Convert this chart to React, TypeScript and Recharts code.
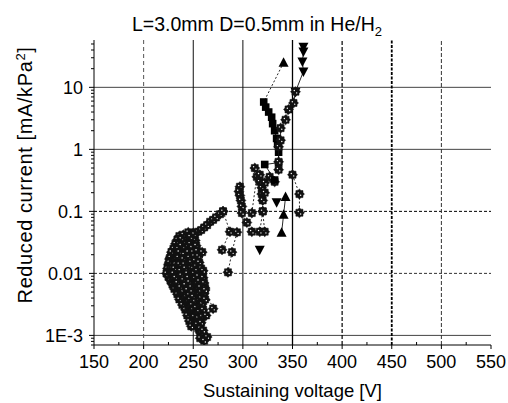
import React from 'react';
import { ScatterChart, Scatter, XAxis, YAxis, ReferenceLine } from 'recharts';

type P = [number, number];
const toPts = (a: P[]) => a.map(([v, c]) => ({ v, c }));

const FONT = '"Liberation Sans", Arial, Helvetica, sans-serif';

// ---- axis ticks ----
const xTicks = [150, 175, 200, 225, 250, 275, 300, 325, 350, 375, 400, 425, 450, 475, 500, 525, 550];
const xMajor = [150, 200, 250, 300, 350, 400, 450, 500, 550];
const xMajorLabels = ['150', '200', '250', '300', '350', '400', '450', '500', '550'];
const yMajor = [0.001, 0.01, 0.1, 1, 10];
const yMajorLabels = ['1E-3', '0.01', '0.1', '1', '10'];
const yMinor = [
  0.0007, 0.0008, 0.0009,
  0.002, 0.003, 0.004, 0.005, 0.006, 0.007, 0.008, 0.009,
  0.02, 0.03, 0.04, 0.05, 0.06, 0.07, 0.08, 0.09,
  0.2, 0.3, 0.4, 0.5, 0.6, 0.7, 0.8, 0.9,
  2, 3, 4, 5, 6, 7, 8, 9,
  20, 30, 40, 50,
];
const yTicks = [...yMajor, ...yMinor].sort((a, b) => a - b);

// ---- data (voltage V, reduced current mA/kPa^2) ----
const clusterA: P[] = [[245,0.046],[247,0.04],[248,0.035],[247,0.03],[249,0.026],[250,0.022],[251,0.019],[252,0.016],[253,0.013],[254,0.011],[255,0.009],[256,0.0075],[257,0.006],[258,0.005],[258,0.004],[259,0.0032],[260,0.0026],[259,0.002],[258,0.0016],[257,0.0013],[258,0.0011],[257,0.0009]];
const clusterB: P[] = [[240,0.042],[238,0.036],[236,0.03],[235,0.025],[234,0.021],[233,0.017],[232,0.014],[231,0.012],[230,0.01],[232,0.0085],[234,0.007],[237,0.006],[240,0.005],[243,0.0042],[245,0.0035],[247,0.0029],[249,0.0024],[251,0.002],[253,0.0016],[255,0.0013],[257,0.0011]];
const clusterC: P[] = [[250,0.04],[252,0.034],[253,0.028],[254,0.023],[255,0.019],[256,0.015],[258,0.012],[259,0.01],[260,0.0085],[261,0.007],[262,0.0058],[261,0.0047],[262,0.0038]];
const clusterD: P[] = [[228,0.02],[226,0.017],[225,0.014],[224,0.012],[223,0.01],[225,0.0088],[227,0.0077],[229,0.0066],[231,0.0056],[234,0.0046],[236,0.0038],[239,0.0031],[242,0.0026],[244,0.0021],[246,0.0017],[248,0.0014]];
const clusterE: P[] = [[243,0.03],[242,0.025],[241,0.02],[240,0.017],[241,0.014],[242,0.012],[244,0.01],[245,0.0085],[246,0.0072],[248,0.006],[249,0.005],[250,0.0042],[252,0.0035],[253,0.0028],[254,0.0023],[255,0.0019],[254,0.0015]];
const clusterF: P[] = [[259,0.022],[260,0.011],[262,0.0054],[270,0.0027],[263,0.0021],[260,0.0012],[264,0.00094],[261,0.00082]];
const clusterG: P[] = [[236,0.04],[234,0.035],[232,0.03],[230,0.025],[228,0.022],[227,0.018],[226,0.015],[227,0.012],[228,0.0095],[230,0.008],[232,0.0068],[235,0.0058],[238,0.0048],[241,0.004],[244,0.0033],[246,0.0027],[249,0.0022],[252,0.0018],[255,0.0015],[258,0.0012],[260,0.001]];
const clusterH: P[] = [[250,0.045],[248,0.038],[246,0.032],[245,0.027],[245,0.022],[246,0.018],[248,0.015],[250,0.012],[251,0.01],[252,0.0083],[254,0.0068],[255,0.0056],[256,0.0046],[256,0.0037],[257,0.003],[256,0.0024],[255,0.0019]];
const clusterI: P[] = [[238,0.028],[236,0.022],[235,0.018],[236,0.014],[237,0.011],[238,0.0093],[240,0.0078],[242,0.0065],[244,0.0054],[246,0.0045],[247,0.0038],[249,0.0031],[250,0.0026]];
const clusterJ: P[] = [[229,0.014],[231,0.016],[233,0.013],[234,0.011],[236,0.0098],[233,0.0085],[229,0.012]];
const chainRise: P[] = [[247,0.039],[251,0.043],[255,0.047],[258,0.05],[261,0.055],[264,0.06],[267,0.068],[270,0.073],[273,0.08],[277,0.09],[280,0.1]];
const mid1: P[] = [[280,0.1],[287,0.047],[279,0.024]];
const mid2: P[] = [[294,0.046],[289,0.022],[285,0.0104]];
const mid3: P[] = [[297,0.25],[296,0.21],[297,0.18],[298,0.15],[299,0.12],[299,0.094],[304,0.066],[309,0.047]];
const mid4: P[] = [[309,0.094],[314,0.36],[317,0.3],[319,0.24],[319,0.19],[320,0.15],[320,0.1],[322,0.047]];
const mid5: P[] = [[320,0.1],[317,0.047]];
const upper1: P[] = [[312,0.5],[317,0.39],[322,0.29],[322,0.2]];
const upper2: P[] = [[327,0.36],[332,0.3]];
const squares: P[] = [[321,5.8],[323,4.8],[326,4.0],[329,3.3],[330,2.6],[332,2.0],[334,1.5],[335,1.2],[336,0.9],[336,0.61],[322,0.57],[332,0.32]];
const triUpTopLine: P[] = [[341,25],[321,5.8]];
const triUpTop: P[] = [[341,25]];
const triDownTop: P[] = [[361,45],[361,38],[360,26],[361,18],[353,8.5]];
const rightChain: P[] = [[353,8.5],[351,5.6],[346,4.4],[343,3.0],[338,2.2],[338,1.4],[336,1.1],[336,0.63],[336,0.47]];
const triUpLow: P[] = [[343,0.17],[341,0.088],[339,0.045]];
const triDownLow: P[] = [[334,0.14],[317,0.024]];
const rightFlowers: P[] = [[350,0.39],[357,0.19],[357,0.095]];

// ---- markers ----
const Flower = (p: any) => {
  const { cx, cy } = p;
  if (cx == null || cy == null) return <g />;
  const pts: string[] = [];
  for (let i = 0; i < 16; i++) {
    const r = i % 2 === 0 ? 5 : 3.9;
    const a = (Math.PI * i) / 8;
    pts.push(`${cx + r * Math.cos(a)},${cy + r * Math.sin(a)}`);
  }
  return (
    <g>
      <polygon points={pts.join(' ')} fill="#111" stroke="#111" strokeWidth={0.5} />
      <circle cx={cx - 1.2} cy={cy - 1.2} r={0.7} fill="#fff" />
      <circle cx={cx + 1.2} cy={cy + 1.2} r={0.7} fill="#fff" />
    </g>
  );
};
const Square = (p: any) => {
  const { cx, cy } = p;
  if (cx == null) return <g />;
  return <rect x={cx - 3.8} y={cy - 3.8} width={7.6} height={7.6} fill="#000" />;
};
const TriUp = (p: any) => {
  const { cx, cy } = p;
  if (cx == null) return <g />;
  return <polygon points={`${cx},${cy - 5.5} ${cx + 5},${cy + 4} ${cx - 5},${cy + 4}`} fill="#000" />;
};
const TriDown = (p: any) => {
  const { cx, cy } = p;
  if (cx == null) return <g />;
  return <polygon points={`${cx},${cy + 5.5} ${cx + 5},${cy - 4} ${cx - 5},${cy - 4}`} fill="#000" />;
};
const NoMark = () => <g />;

const dotted = { stroke: '#111', strokeWidth: 0.9, strokeDasharray: '2 2' };
const solid = { stroke: '#111', strokeWidth: 0.9 };

const XTick = (props: any) => {
  const { x, y, payload } = props;
  const v = payload.value as number;
  const idx = xMajor.indexOf(v);
  const major = idx >= 0;
  return (
    <g>
      <line x1={x} x2={x} y1={y} y2={major ? y + 4 : y - 3} stroke="#000" strokeWidth={1} />
      {major && (
        <text x={x} y={y + 23} textAnchor="middle" fontSize={18} fill="#000" fontFamily={FONT}>
          {xMajorLabels[idx]}
        </text>
      )}
    </g>
  );
};

const YTick = (props: any) => {
  const { x, y, payload } = props;
  const v = payload.value as number;
  const idx = yMajor.findIndex((m) => Math.abs(m - v) / m < 1e-6);
  const major = idx >= 0;
  return (
    <g>
      <line x1={x - (major ? 5 : 3)} x2={x} y1={y} y2={y} stroke="#000" strokeWidth={1} />
      {major && (
        <text x={x - 11} y={y + 6.5} textAnchor="end" fontSize={18} fill="#000" fontFamily={FONT}>
          {yMajorLabels[idx]}
        </text>
      )}
    </g>
  );
};

const Titles = () => (
  <g fontFamily={FONT} fill="#000">
    <text x={257} y={31} textAnchor="middle" fontSize={19.5}>
      L=3.0mm D=0.5mm in He/H<tspan dy={5} fontSize={13}>2</tspan>
    </text>
    <text x={292.5} y={397} textAnchor="middle" fontSize={18.5}>
      Sustaining voltage [V]
    </text>
    <text transform="translate(32,175) rotate(-90)" textAnchor="middle" fontSize={20} letterSpacing={0.6}>
      Reduced current [mA/kPa<tspan dy={-7} fontSize={13}>2</tspan>
      <tspan dy={7}>]</tspan>
    </text>
  </g>
);

const series: { data: P[]; shape: any; line: any }[] = [
  { data: clusterD, shape: Flower, line: dotted },
  { data: clusterG, shape: Flower, line: dotted },
  { data: clusterJ, shape: Flower, line: dotted },
  { data: clusterB, shape: Flower, line: dotted },
  { data: clusterI, shape: Flower, line: dotted },
  { data: clusterE, shape: Flower, line: dotted },
  { data: clusterH, shape: Flower, line: dotted },
  { data: clusterA, shape: Flower, line: dotted },
  { data: clusterC, shape: Flower, line: dotted },
  { data: clusterF, shape: Flower, line: dotted },
  { data: chainRise, shape: Flower, line: dotted },
  { data: mid1, shape: Flower, line: dotted },
  { data: mid2, shape: Flower, line: dotted },
  { data: mid3, shape: Flower, line: dotted },
  { data: mid4, shape: Flower, line: dotted },
  { data: mid5, shape: Flower, line: dotted },
  { data: upper1, shape: Flower, line: dotted },
  { data: upper2, shape: Flower, line: dotted },
  { data: triUpTopLine, shape: NoMark, line: dotted },
  { data: squares, shape: Square, line: solid },
  { data: triUpTop, shape: TriUp, line: false },
  { data: triDownTop, shape: TriDown, line: solid },
  { data: rightChain, shape: Flower, line: solid },
  { data: triUpLow, shape: TriUp, line: solid },
  { data: triDownLow, shape: TriDown, line: false },
  { data: rightFlowers, shape: Flower, line: dotted },
];

export default function App() {
  return (
    <div style={{ position: 'fixed', left: 0, top: 0, width: 508, height: 403, background: '#fff' }}>
      <ScatterChart width={508} height={403} margin={{ top: 40, right: 17, bottom: 0, left: 0 }}>
        <XAxis
          type="number"
          dataKey="v"
          domain={[150, 550]}
          ticks={xTicks}
          interval={0}
          allowDataOverflow
          height={58}
          tickSize={0}
          tickMargin={0}
          tickLine={false}
          tick={<XTick />}
          axisLine={{ stroke: '#000', strokeWidth: 1 }}
          label={<Titles />}
        />
        <YAxis
          type="number"
          dataKey="c"
          scale="log"
          domain={[0.0007, 58]}
          ticks={yTicks}
          interval={0}
          allowDataOverflow
          width={94}
          tickSize={0}
          tickMargin={0}
          tickLine={false}
          tick={<YTick />}
          axisLine={{ stroke: '#000', strokeWidth: 1 }}
        />
        <ReferenceLine y={10} stroke="#444" strokeWidth={1} />
        <ReferenceLine y={1} stroke="#444" strokeWidth={1} />
        <ReferenceLine y={0.1} stroke="#000" strokeWidth={1} strokeDasharray="3 2" />
        <ReferenceLine y={0.01} stroke="#333" strokeWidth={1} strokeDasharray="3 2" />
        <ReferenceLine y={0.001} stroke="#444" strokeWidth={1} />
        <ReferenceLine x={200} stroke="#555" strokeWidth={1} strokeDasharray="4 3" />
        <ReferenceLine x={250} stroke="#111" strokeWidth={1} />
        <ReferenceLine x={300} stroke="#111" strokeWidth={1} />
        <ReferenceLine x={350} stroke="#000" strokeWidth={1.3} />
        <ReferenceLine x={400} stroke="#000" strokeWidth={1.2} strokeDasharray="4 2" />
        <ReferenceLine x={450} stroke="#000" strokeWidth={1.8} strokeDasharray="3 1.5" />
        <ReferenceLine x={500} stroke="#333" strokeWidth={1} strokeDasharray="4 2" />
        {series.map((s, i) => (
          <Scatter
            key={i}
            data={toPts(s.data)}
            shape={s.shape}
            line={s.line}
            lineType="joint"
            isAnimationActive={false}
          />
        ))}
      </ScatterChart>
    </div>
  );
}
